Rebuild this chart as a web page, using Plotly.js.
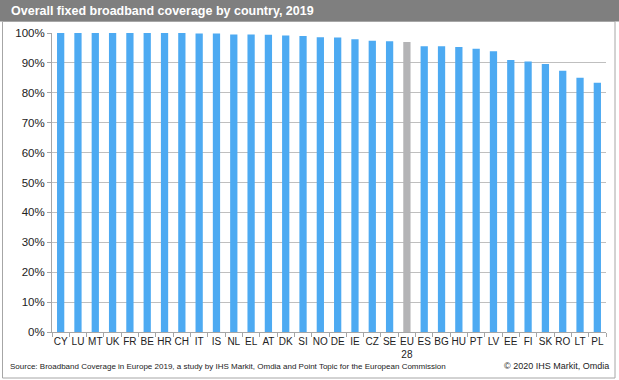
<!DOCTYPE html>
<html>
<head>
<meta charset="utf-8">
<script src="https://cdn.plot.ly/plotly-3.0.1.min.js"></script>
<style>html,body{margin:0;padding:0;background:#fff;}#chart{width:619px;height:380px;}</style>
</head>
<body>
<div id="chart"></div>
<script>
const countries = ["CY","LU","MT","UK","FR","BE","HR","CH","IT","IS","NL","EL","AT","DK","SI","NO","DE","IE","CZ","SE","EU<br>28","ES","BG","HU","PT","LV","EE","FI","SK","RO","LT","PL"];
const coverage = [100,100,100,100,100,100,100,100,99.8,99.8,99.5,99.5,99.4,99.2,99.0,98.6,98.5,97.9,97.4,97.2,97.0,95.6,95.6,95.3,94.7,93.9,91.0,90.5,89.6,87.4,85.0,83.4];
const highlight = "EU<br>28";
const titleText = "Overall fixed broadband coverage by country, 2019";
const sourceText = "Source: Broadband Coverage in Europe 2019, a study by IHS Markit, Omdia and Point Topic for the European Commission";
const creditText = "\u00a9 2020 IHS Markit, Omdia";

const W = 619, H = 380;
const M = {l: 52, r: 13, t: 33, b: 48};
const px = x => (x - M.l) / (W - M.l - M.r);
const py = y => (H - M.b - y) / (H - M.t - M.b);

const colors = countries.map(c => c === highlight ? "#B4B4B6" : "#4DAAF2");

const trace = {
  type: "bar",
  x: countries,
  y: coverage,
  marker: {color: colors, line: {width: 0}},
  width: 0.42,
  hoverinfo: "x+y"
};

const layout = {
  width: W, height: H,
  margin: M,
  paper_bgcolor: "#ffffff",
  plot_bgcolor: "#ffffff",
  font: {family: "Liberation Sans, Arial, sans-serif", color: "#222"},
  showlegend: false,
  bargap: 0.58,
  xaxis: {
    type: "category",
    tickfont: {size: 10, color: "#222"},
    showline: true, linecolor: "#A6A6A6", linewidth: 1,
    ticks: "outside", ticklen: 4, tickcolor: "#A6A6A6",
    tickson: "boundaries",
    showgrid: false,
    tickangle: 0,
    automargin: false
  },
  yaxis: {
    range: [0, 100],
    tickvals: [0,10,20,30,40,50,60,70,80,90,100],
    ticktext: ["0%","10%","20%","30%","40%","50%","60%","70%","80%","90%","100%"],
    tickfont: {size: 11.5, color: "#222"},
    showgrid: true, gridcolor: "#BFBFBF", gridwidth: 1,
    showline: true, linecolor: "#A6A6A6", linewidth: 1,
    ticks: "outside", ticklen: 4, tickcolor: "#A6A6A6",
    zeroline: false,
    automargin: false
  },
  shapes: [
    {type: "rect", xref: "paper", yref: "paper", x0: px(0), x1: px(W), y0: py(0), y1: py(21.5),
     fillcolor: "#7F7F7F", line: {width: 0}, layer: "below"},
    {type: "rect", xref: "paper", yref: "paper", x0: px(2.5), x1: px(615), y0: py(21.5), y1: py(378),
     fillcolor: "rgba(0,0,0,0)", line: {color: "#A6A6A6", width: 1}, layer: "below"}
  ],
  annotations: [
    {xref: "paper", yref: "paper", x: px(9), y: py(11), xanchor: "left", yanchor: "middle",
     text: "<b>" + titleText + "</b>", showarrow: false, font: {size: 12.5, color: "#ffffff"}},
    {xref: "paper", yref: "paper", x: px(8), y: py(366), xanchor: "left", yanchor: "middle",
     text: sourceText, showarrow: false, font: {size: 8, color: "#222"}},
    {xref: "paper", yref: "paper", x: px(611), y: py(366), xanchor: "right", yanchor: "middle",
     text: creditText, showarrow: false, font: {size: 9, color: "#222"}}
  ]
};

Plotly.newPlot("chart", [trace], layout, {displayModeBar: false, staticPlot: true});
</script>
</body>
</html>
